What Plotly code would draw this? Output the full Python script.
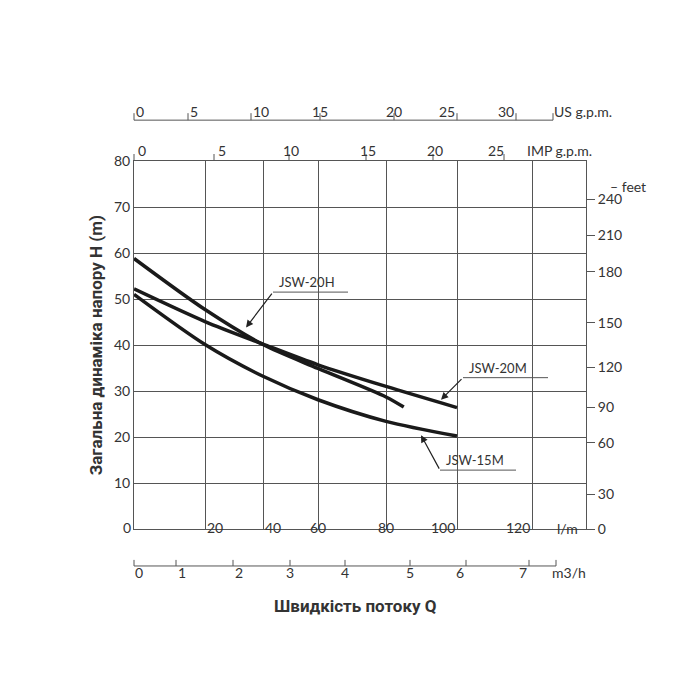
import numpy as np
import plotly.graph_objects as go

# horizontal scale of the drawing is not linear: grid lpm -> pixel offset from plot left
grid_lpm = [0, 20, 40, 60, 80, 100, 120, 135]
grid_u = [0, 71, 129, 184, 252, 323, 398, 452]
W = 452.0

def u(lpm):
    return np.interp(lpm, grid_lpm, grid_u)

def px(uu):
    # plot-area offset (pixels) -> paper fraction
    return uu / W

# pump curves, flow l/min vs head m
q_20h = [0, 20, 40, 60, 80, 85]
h_20h = [58.8, 47.7, 40.1, 34.9, 28.7, 26.5]
q_20m = [0, 20, 40, 60, 80, 100]
h_20m = [52.2, 45.1, 40.2, 35.7, 31.0, 26.4]
q_15m = [0, 20, 40, 60, 80, 100]
h_15m = [51.0, 40.1, 33.2, 28.1, 23.4, 20.2]

x_ticks = [20, 40, 60, 80, 100, 120]
feet_labels = ["240", "210", "180", "150", "120", "90", "60", "30", "0"]
feet_pos_m = [71.7, 63.9, 55.9, 44.8, 35.2, 26.5, 18.7, 7.6, 0]
us_labels = [0, 5, 10, 15, 20, 25, 30]
us_u = [0, 54, 117, 186, 260, 323, 382]
imp_labels = [0, 5, 10, 15, 20, 25]
imp_u = [0, 80, 155, 232, 299, 370]
m3h_labels = [0, 1, 2, 3, 4, 5, 6, 7]
m3h_u = [-1, 42, 99, 156, 211, 276, 332, 395]

tick_font = dict(family="Lato, DejaVu Sans", size=14, color="#333")
line_c = "#555"

fig = go.Figure()
for q, h in [(q_20h, h_20h), (q_20m, h_20m), (q_15m, h_15m)]:
    fig.add_trace(go.Scatter(x=u(np.array(q)), y=h, mode="lines",
                             line=dict(color="#1a1a1a", width=3.5, shape="spline", smoothing=0.8),
                             showlegend=False, hoverinfo="skip"))
fig.add_trace(go.Scatter(x=[None], y=[None], yaxis="y2", showlegend=False))

shapes = []
ann = []

def pline(x0, y0, x1, y1):
    shapes.append(dict(type="line", xref="paper", yref="paper", x0=x0, x1=x1, y0=y0, y1=y1,
                       line=dict(color=line_c, width=1)))

def ptext(x, y, text, **kw):
    ann.append(dict(x=x, y=y, xref="paper", yref="paper", text=text, showarrow=False, font=tick_font, **kw))

# top US g.p.m. scale
pline(0, 1.111, px(419), 1.111)
for v, p in zip(us_labels, us_u):
    pline(px(p), 1.111, px(p), 1.13)
    ptext(px(p), 1.163, str(v))
pline(px(419), 1.111, px(419), 1.13)
ptext(px(480), 1.163, "US g.p.m.")
# IMP g.p.m. scale on top border
for v, p in zip(imp_labels, imp_u):
    pline(px(p), 1.0, px(p), 1.019)
    ptext(px(p + 2), 1.057, str(v))
ptext(px(460), 1.057, "IMP g.p.m.")
# bottom m3/h scale
pline(0, -0.1005, px(422), -0.1005)
for v, p in zip(m3h_labels, m3h_u):
    pp = max(p, 0)
    pline(px(pp), -0.1005, px(pp), -0.084)
    ptext(px(p), -0.147, str(v))
pline(px(422), -0.1005, px(422), -0.084)
ptext(px(454), -0.147, "m3/h")
# x tick labels and others
for v in x_ticks:
    ptext(px(u(v)), -0.024, str(v))
ptext(px(446), -0.028, "l/m")
ptext(px(-13), -0.024, "0")
ptext(px(474), 0.96, "– feet", xanchor="left")

# curve labels with leader lines
labels = [
    ("JSW-20H", (112, 43.8), (139, 51.5), (214, 51.5)),
    ("JSW-20M", (307, 28.1), (329, 32.9), (414, 32.9)),
    ("JSW-15M", (287, 20.4), (306, 12.8), (382, 12.8)),
]
for txt, tip, knee, end in labels:
    shapes.append(dict(type="line", xref="x", yref="y", x0=knee[0], y0=knee[1], x1=end[0], y1=end[1],
                       line=dict(color=line_c, width=1)))
    ann.append(dict(x=tip[0], y=tip[1], ax=knee[0], ay=knee[1], axref="x", ayref="y", xref="x", yref="y", text="",
                    showarrow=True, arrowhead=2, arrowsize=1.2, arrowwidth=1.2, arrowcolor="#222"))
    ann.append(dict(x=knee[0] + 4, y=knee[1], xref="x", yref="y", text=txt, showarrow=False, xanchor="left",
                    yanchor="bottom", font=dict(family="Lato, DejaVu Sans", size=13, color="#333")))

ann.append(dict(x=-0.11, y=0.5, xref="paper", yref="paper", text="<b>Загальна динаміка напору H (m)</b>",
                textangle=-90, showarrow=False, font=dict(family="Roboto", size=17, color="#333")))
ann.append(dict(x=0.49, y=-0.242, xref="paper", yref="paper", text="<b>Швидкість потоку Q</b>",
                showarrow=False, font=dict(family="Roboto", size=17, color="#333")))

fig.update_layout(
    width=700, height=700, margin=dict(l=126, r=122, t=153, b=179),
    paper_bgcolor="white", plot_bgcolor="white", shapes=shapes, annotations=ann, showlegend=False,
    xaxis=dict(range=[0, W], tickvals=list(u(x_ticks)), showticklabels=False, showgrid=True, gridcolor=line_c,
               gridwidth=1, showline=True, mirror=True, linecolor=line_c, linewidth=1, zeroline=False,
               automargin=False),
    yaxis=dict(range=[0, 80], tickvals=[10, 20, 30, 40, 50, 60, 70, 80], showgrid=True, gridcolor=line_c,
               gridwidth=1, showline=True, mirror=True, linecolor=line_c, linewidth=1, zeroline=False,
               tickfont=tick_font, ticks="", automargin=False),
    yaxis2=dict(range=[0, 80], overlaying="y", side="right", tickvals=feet_pos_m, ticktext=feet_labels,
                ticks="outside", ticklen=8, tickcolor=line_c, showgrid=False, zeroline=False, tickfont=tick_font,
                automargin=False),
)
fig.write_html("out.html")
